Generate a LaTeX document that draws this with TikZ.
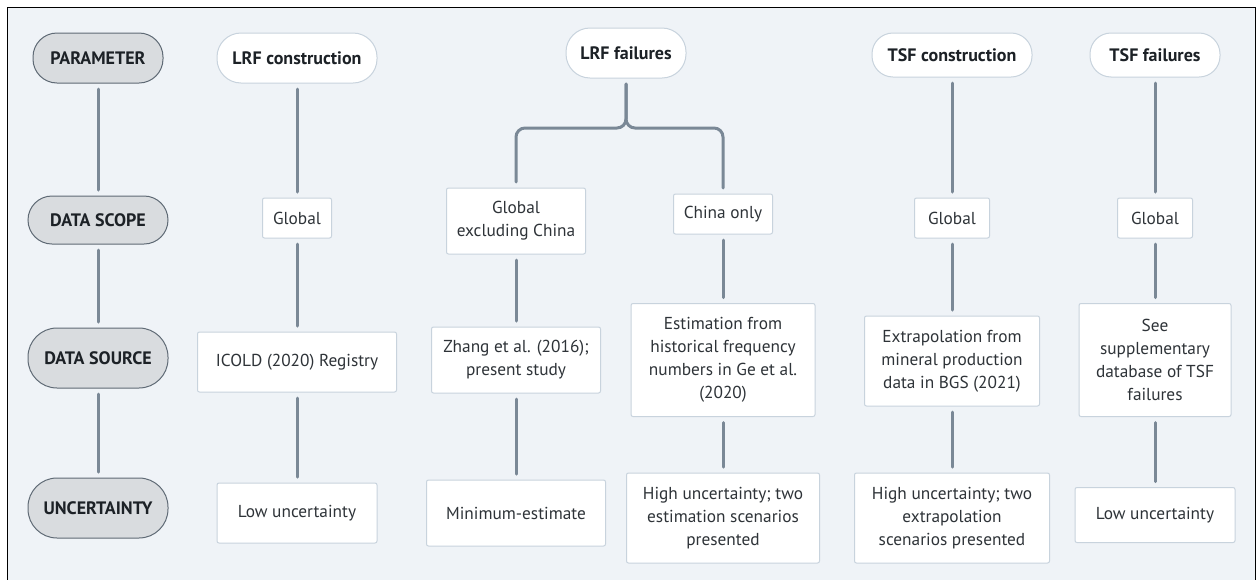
\documentclass[tikz,border=0pt]{standalone}
\usepackage{fontspec}
\setmainfont{PT Sans}
\definecolor{bgc}{HTML}{EFF3F7}
\definecolor{conncol}{HTML}{7A8896}
\definecolor{pilldark}{HTML}{D9DCDF}
\definecolor{pillline}{HTML}{5F6A75}
\definecolor{boxline}{HTML}{C8D3DD}
\definecolor{txt}{HTML}{2E3338}
\definecolor{btxt}{HTML}{1C2126}
\begin{document}
\begin{tikzpicture}[x=1pt,y=-1pt,
  every node/.style={inner sep=0pt, outer sep=0pt, align=center},
  rowlabel/.style={draw=pillline, line width=1pt, fill=pilldark, rounded corners=24pt,
    minimum width=140pt, minimum height=50pt, font=\fontsize{18}{22}\selectfont\bfseries, text=btxt},
  colhead/.style={draw=boxline, line width=1pt, fill=white, rounded corners=24pt,
    minimum height=48pt, font=\fontsize{18}{22}\selectfont\bfseries, text=btxt},
  infobox/.style={draw=boxline, line width=1pt, fill=white, rounded corners=2pt,
    font=\fontsize{17.3}{23}\selectfont, text=txt},
  conn/.style={draw=conncol, line width=3pt, line cap=round, shorten >=6pt, shorten <=6pt}
]
\useasboundingbox (0,0) rectangle (1257,579);
\begin{scope}
\clip (0,0) rectangle (1257,579);
\draw[black, line width=1.6pt, fill=bgc] (7.5,7.5) rectangle (1255.5,620);
\end{scope}

% row labels
\node[rowlabel, minimum width=130pt] (param) at (98,58) {PARAMETER};
\node[rowlabel, minimum height=48pt] (scope) at (98,220) {DATA SCOPE};
\node[rowlabel, minimum height=60pt, rounded corners=29pt] (source) at (98,358) {DATA SOURCE};
\node[rowlabel, minimum height=60pt, rounded corners=29pt] (unc) at (98,508) {UNCERTAINTY};

% column headers
\node[colhead, minimum width=160pt, minimum height=50pt] (lrfc) at (297,58) {LRF construction};
\node[colhead, minimum width=120pt, minimum height=50pt] (lrff) at (626,53) {LRF failures};
\node[colhead, minimum width=160pt, minimum height=44pt, rounded corners=21pt] (tsfc) at (952,55) {TSF construction};
\node[colhead, minimum width=130pt, minimum height=44pt, rounded corners=21pt] (tsff) at (1155,55) {TSF failures};

% LRF construction column
\node[infobox, minimum width=69pt, minimum height=40pt] (g1) at (297,218) {Global};
\node[infobox, minimum width=199pt, minimum height=60pt] (s1) at (297,362) {ICOLD (2020) Registry};
\node[infobox, minimum width=160pt, minimum height=60pt] (u1) at (297,513) {Low uncertainty};

% LRF failures: global excluding China
\node[infobox, minimum width=139pt, minimum height=66pt] (g2) at (516,221) {Global\\excluding China};
\node[infobox, minimum width=169pt, minimum height=66pt] (s2) at (516,360) {Zhang et al. (2016);\\present study};
\node[infobox, minimum width=179pt, minimum height=66pt] (u2) at (516,513) {Minimum-estimate};

% LRF failures: China only
\node[infobox, minimum width=99pt, minimum height=40pt] (g3) at (723,214) {China only};
\node[infobox, minimum width=184pt, minimum height=113pt] (s3) at (723,360) {Estimation from\\historical frequency\\numbers in Ge et al.\\(2020)};
\node[infobox, minimum width=193pt, minimum height=90pt] (u3) at (723,518) {High uncertainty; two\\estimation scenarios\\presented};

% TSF construction
\node[infobox, minimum width=75pt, minimum height=40pt] (g4) at (952,218) {Global};
\node[infobox, minimum width=175pt, minimum height=90pt] (s4) at (952,361) {Extrapolation from\\mineral production\\data in BGS (2021)};
\node[infobox, minimum width=195pt, minimum height=90pt] (u4) at (952,518) {High uncertainty; two\\extrapolation\\scenarios presented};

% TSF failures
\node[infobox, minimum width=75pt, minimum height=40pt] (g5) at (1155,218) {Global};
\node[infobox, minimum width=152pt, minimum height=113pt] (s5) at (1155,360) {See\\supplementary\\database of TSF\\failures};
\node[infobox, minimum width=160pt, minimum height=55pt] (u5) at (1155,515) {Low uncertainty};

% connectors
\draw[conn] (param) -- (scope);
\draw[conn] (scope) -- (source);
\draw[conn] (source) -- (unc);

\draw[conn] (lrfc) -- (g1);
\draw[conn] (g1) -- (s1);
\draw[conn] (s1) -- (u1);

\draw[conn, rounded corners=9pt] (lrff.south) -- (lrff.south |- 0,128) -- (g2.north |- 0,128) -- (g2.north);
\draw[conn, rounded corners=9pt] (lrff.south) -- (lrff.south |- 0,128) -- (g3.north |- 0,128) -- (g3.north);
\draw[conn] (g2) -- (s2);
\draw[conn] (s2) -- (u2);
\draw[conn] (g3) -- (s3);
\draw[conn] (s3) -- (u3);

\draw[conn] (tsfc) -- (g4);
\draw[conn] (g4) -- (s4);
\draw[conn] (s4) -- (u4);

\draw[conn] (tsff) -- (g5);
\draw[conn] (g5) -- (s5);
\draw[conn] (s5) -- (u5);
\end{tikzpicture}
\end{document}
